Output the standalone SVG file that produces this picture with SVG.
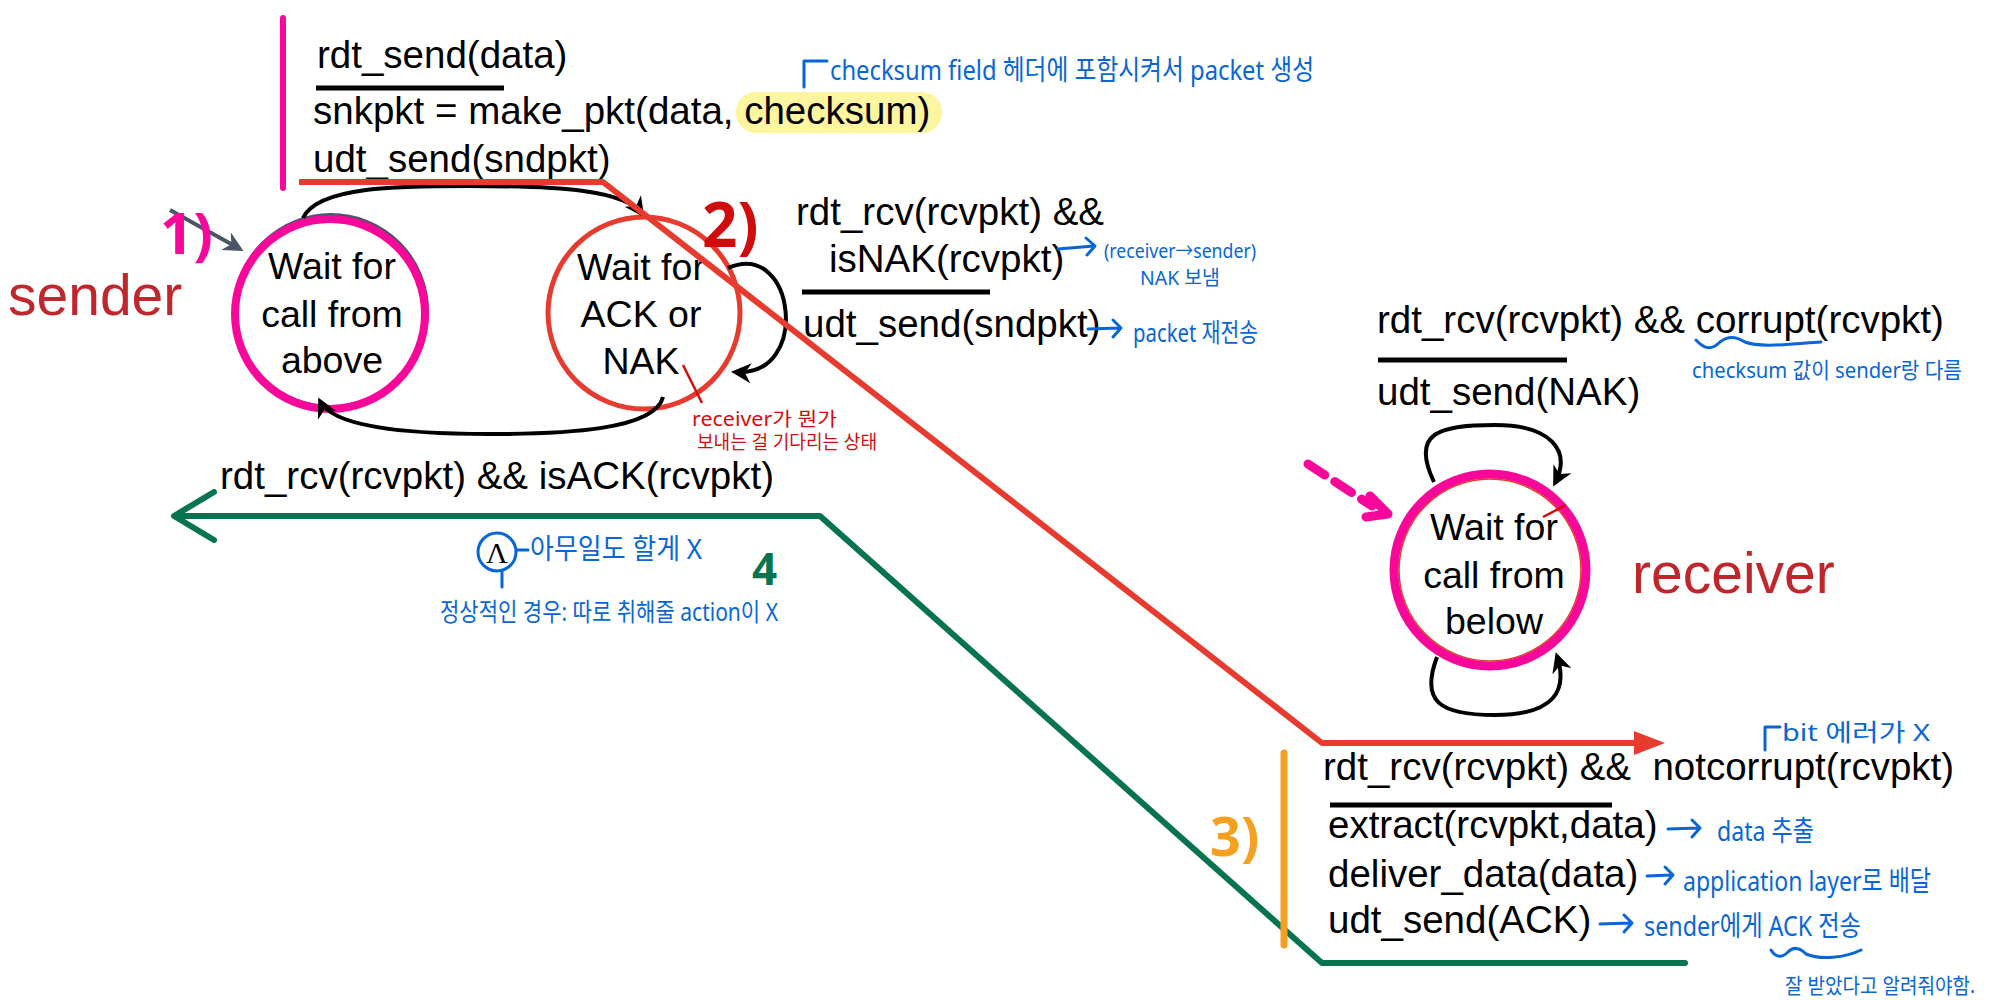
<svg xmlns="http://www.w3.org/2000/svg" width="2013" height="1000" viewBox="0 0 2013 1000">
<defs>
<style>
.lbl{font-family:"Liberation Sans",Arial,sans-serif;font-size:38.5px;fill:#000}
.st{font-family:"Liberation Sans",Arial,sans-serif;font-size:37.5px;fill:#000;text-anchor:middle}
.role{font-family:"Liberation Sans",Arial,sans-serif;font-size:57px;fill:#c0272d}
.hb{font-family:"Noto Sans","Noto Sans CJK KR",sans-serif;fill:#0866d6}
.hr{font-family:"Noto Sans","Noto Sans CJK KR",sans-serif;fill:#d40c0c}
.num{font-family:"Noto Sans",sans-serif;font-weight:bold}
.bar{stroke:#000;stroke-width:5}
.arc{fill:none;stroke:#000;stroke-width:4}
.bl{fill:none;stroke:#0866d6;stroke-width:3;stroke-linecap:round;stroke-linejoin:round}
</style>
<marker id="ah" viewBox="0 0 10 10" refX="8" refY="5" markerWidth="5" markerHeight="5" orient="auto-start-reverse" markerUnits="strokeWidth">
<path d="M0,0 L10,5 L0,10 L3,5 Z" fill="#000"/>
</marker>
<marker id="ahs" viewBox="0 0 10 10" refX="8" refY="5" markerWidth="5" markerHeight="5" orient="auto" markerUnits="strokeWidth">
<path d="M0,0 L10,5 L0,10 L3,5 Z" fill="#4b5568"/>
</marker>
</defs>
<rect width="2013" height="1000" fill="#fff"/>

<g id="sender-label"><text class="role" x="8" y="315">sender</text></g>
<g id="receiver-label"><text class="role" x="1632" y="593">receiver</text></g>

<g id="state-wait-above">
<circle cx="331" cy="311" r="96" fill="#fff" stroke="#4b5568" stroke-width="4"/>
<circle cx="330" cy="314" r="95" fill="none" stroke="#f7089b" stroke-width="8"/>
<text class="st" x="332" y="279">Wait for</text>
<text class="st" x="332" y="327">call from</text>
<text class="st" x="332" y="373">above</text>
</g>

<g id="state-wait-ack">
<circle cx="644" cy="313" r="96" fill="#fff" stroke="#e63b2e" stroke-width="5"/>
<text class="st" x="641" y="280">Wait for</text>
<text class="st" x="641" y="327">ACK or</text>
<text class="st" x="641" y="374">NAK</text>
</g>

<g id="state-wait-below">
<circle cx="1490" cy="570" r="96" fill="#fff" stroke="#f7089b" stroke-width="9"/>
<circle cx="1490" cy="570" r="91" fill="none" stroke="#e63b2e" stroke-width="1.5"/>
<text class="st" x="1494" y="540">Wait for</text>
<text class="st" x="1494" y="588">call from</text>
<text class="st" x="1494" y="634">below</text>
</g>

<g id="connectors">
<path d="M170,210 L240,249" stroke="#4b5568" stroke-width="4" fill="none" marker-end="url(#ahs)"/>
<path class="arc" d="M303,218 C318,186 400,186 470,186 C560,186 625,190 642,214" marker-end="url(#ah)"/>
<path class="arc" d="M663,397 C655,430 565,434 490,434 C400,434 332,426 320,401" marker-end="url(#ah)"/>
<path class="arc" d="M728,268 C795,238 812,378 735,372" marker-end="url(#ah)"/>
<path class="arc" d="M1434,482 C1410,432 1440,425 1495,425 C1550,425 1572,450 1555,483" marker-end="url(#ah)"/>
<path class="arc" d="M1437,657 C1420,702 1440,715 1495,715 C1555,715 1568,690 1557,656" marker-end="url(#ah)"/>
</g>

<g id="sender-init-label">
<line x1="283" y1="18" x2="283" y2="188" stroke="#f7089b" stroke-width="6" stroke-linecap="round"/>
<text class="lbl" x="317" y="68">rdt_send(data)</text>
<line class="bar" x1="316" y1="88" x2="504" y2="88"/>
<rect x="736" y="92" width="206" height="41" rx="20" fill="#fdf5a0"/>
<text class="lbl" x="313" y="124">snkpkt = make_pkt(data, checksum)</text>
<text class="lbl" x="313" y="172">udt_send(sndpkt)</text>
</g>

<g id="sender-nak-label">
<text class="lbl" x="796" y="225">rdt_rcv(rcvpkt) &amp;&amp;</text>
<text class="lbl" x="829" y="272">isNAK(rcvpkt)</text>
<line class="bar" x1="802" y1="292" x2="990" y2="292"/>
<text class="lbl" x="803" y="337">udt_send(sndpkt)</text>
</g>

<g id="sender-ack-label">
<text class="lbl" x="220" y="489">rdt_rcv(rcvpkt) &amp;&amp; isACK(rcvpkt)</text>
<circle cx="497" cy="552" r="19" fill="none" stroke="#0866d6" stroke-width="3"/>
<text x="497" y="563" font-family="Liberation Serif,serif" font-size="30" text-anchor="middle" fill="#000">Λ</text>
<path class="bl" d="M502,571 L502,587 M517,550 L528,550"/>
</g>

<g id="receiver-corrupt-label">
<text class="lbl" x="1377" y="333">rdt_rcv(rcvpkt) &amp;&amp; corrupt(rcvpkt)</text>
<line class="bar" x1="1378" y1="360" x2="1567" y2="360"/>
<text class="lbl" x="1377" y="405">udt_send(NAK)</text>
</g>

<g id="receiver-ok-label">
<text class="lbl" x="1323" y="780" xml:space="preserve">rdt_rcv(rcvpkt) &amp;&amp;  notcorrupt(rcvpkt)</text>
<line class="bar" x1="1330" y1="805" x2="1612" y2="805"/>
<text class="lbl" x="1328" y="838">extract(rcvpkt,data)</text>
<text class="lbl" x="1328" y="887">deliver_data(data)</text>
<text class="lbl" x="1328" y="933">udt_send(ACK)</text>
</g>

<g id="flow-lines" fill="none" stroke-linejoin="round">
<path d="M299,182 L603,182 L1322,743 L1638,743" stroke="#e63b2e" stroke-width="6"/>
<path d="M1634,731 L1665,743 L1634,755 Z" fill="#e63b2e" stroke="none"/>
<path d="M1685,963 L1322,963 L820,516 L176,516" stroke="#08744f" stroke-width="6" stroke-linecap="round"/>
<path d="M214,492 L174,516 L214,540" stroke="#08744f" stroke-width="6" stroke-linecap="round"/>
<line x1="1284" y1="753" x2="1284" y2="945" stroke="#f5a020" stroke-width="7" stroke-linecap="round"/>
<path d="M1308,464 L1372,506" stroke="#f7089b" stroke-width="9" stroke-dasharray="20 12" stroke-linecap="round"/>
<path d="M1370,496 L1388,514 L1366,517" stroke="#f7089b" stroke-width="9" stroke-linecap="round"/>
</g>

<g id="step-numbers">
<text class="num" x="160" y="254" font-size="58" fill="#f7089b">1)</text>
<text class="num" x="702" y="247" font-size="62" fill="#d10b0b">2)</text>
<text class="num" x="1210" y="856" font-size="54" fill="#f5a020">3)</text>
<text class="num" x="752" y="585" font-size="44" fill="#08744f">4</text>
</g>

<g id="annotations">
<path class="bl" d="M804,87 L804,61 L827,61"/>
<text class="hb" x="830" y="80" font-size="28" textLength="484" lengthAdjust="spacingAndGlyphs">checksum field 헤더에 포함시켜서 packet 생성</text>
<path class="bl" d="M1058,249 L1094,246 M1086,238 L1095,246 L1087,255"/>
<text class="hb" x="1104" y="258" font-size="20" textLength="152" lengthAdjust="spacingAndGlyphs">(receiver→sender)</text>
<text class="hb" x="1140" y="285" font-size="20" textLength="80" lengthAdjust="spacingAndGlyphs">NAK 보냄</text>
<path class="bl" d="M1088,329 L1120,328 M1113,320 L1121,328 L1113,337"/>
<text class="hb" x="1133" y="342" font-size="26" textLength="125" lengthAdjust="spacingAndGlyphs">packet 재전송</text>
<path class="bl" d="M1696,340 C1705,350 1712,350 1720,342 C1728,336 1735,336 1745,342 C1760,348 1790,344 1821,342"/>
<text class="hb" x="1692" y="378" font-size="22" textLength="270" lengthAdjust="spacingAndGlyphs">checksum 값이 sender랑 다름</text>
<text class="hb" x="530" y="559" font-size="28" textLength="172" lengthAdjust="spacingAndGlyphs">아무일도 할게 X</text>
<text class="hb" x="440" y="621" font-size="25" textLength="338" lengthAdjust="spacingAndGlyphs">정상적인 경우: 따로 취해줄 action이 X</text>
<path class="bl" d="M1765,750 L1765,727 L1780,727"/>
<text class="hb" x="1782" y="741" font-size="24" textLength="148" lengthAdjust="spacingAndGlyphs">bit 에러가 X</text>
<path class="bl" d="M1668,829 L1698,828 M1692,820 L1700,828 L1692,837"/>
<text class="hb" x="1717" y="841" font-size="28" textLength="97" lengthAdjust="spacingAndGlyphs">data 추출</text>
<path class="bl" d="M1647,876 L1671,875 M1665,867 L1673,875 L1665,884"/>
<text class="hb" x="1683" y="891" font-size="28" textLength="248" lengthAdjust="spacingAndGlyphs">application layer로 배달</text>
<path class="bl" d="M1600,924 L1630,923 M1624,915 L1632,923 L1624,932"/>
<text class="hb" x="1644" y="936" font-size="28" textLength="217" lengthAdjust="spacingAndGlyphs">sender에게 ACK 전송</text>
<path class="bl" d="M1771,950 C1776,958 1782,958 1788,952 C1794,946 1800,948 1806,954 C1820,960 1845,958 1861,950"/>
<text class="hb" x="1785" y="993" font-size="21" textLength="190" lengthAdjust="spacingAndGlyphs">잘 받았다고 알려줘야함.</text>
<path d="M683,365 L702,403" stroke="#d40c0c" stroke-width="2.5" fill="none"/>
<text class="hr" x="692" y="426" font-size="19" textLength="145" lengthAdjust="spacingAndGlyphs">receiver가 뭔가</text>
<text class="hr" x="697" y="449" font-size="19" textLength="180" lengthAdjust="spacingAndGlyphs">보내는 걸 기다리는 상태</text>
<path d="M1543,517 L1566,505" stroke="#d40c0c" stroke-width="2.5" fill="none"/>
</g>
</svg>
